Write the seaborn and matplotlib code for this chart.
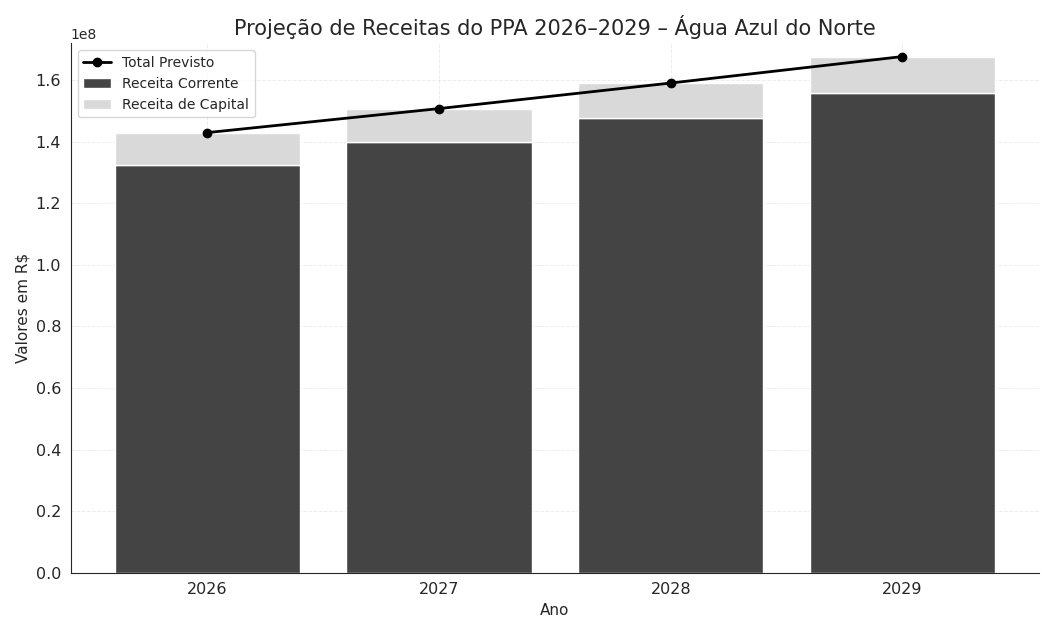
import numpy as np
import pandas as pd
import matplotlib
matplotlib.use("Agg")
import matplotlib.pyplot as plt
import seaborn as sns

anos = ["2026", "2027", "2028", "2029"]
receita_corrente = [132.5e6, 139.8e6, 147.6e6, 155.8e6]
receita_capital = [10.5e6, 11.0e6, 11.5e6, 11.9e6]
total_previsto = [c + k for c, k in zip(receita_corrente, receita_capital)]

df = pd.DataFrame({
    "ano": anos,
    "corrente": receita_corrente,
    "capital": receita_capital,
    "total": total_previsto,
})

sns.set_style("white")
plt.rcParams['font.family'] = ['DejaVu Sans']

fig, ax = plt.subplots(figsize=(10.54, 6.33), dpi=100)

sns.barplot(data=df, x="ano", y="corrente", color="#444444", saturation=1,
            width=0.8, label="Receita Corrente", ax=ax)
sns.barplot(data=df, x="ano", y="capital", color="#d9d9d9", saturation=1,
            width=0.8, bottom=df["corrente"], label="Receita de Capital", ax=ax)
ax.plot(np.arange(len(anos)), df["total"], marker="o", color="black",
        linewidth=2, markersize=6, label="Total Previsto")

ax.grid(True, linestyle="--", linewidth=0.7, alpha=0.35)
sns.despine(ax=ax)

ax.set_title("Projeção de Receitas do PPA 2026–2029 – Água Azul do Norte", fontsize=15)
ax.set_xlabel("Ano", fontsize=11)
ax.set_ylabel("Valores em R$", fontsize=11)
ax.tick_params(labelsize=11.5)
ax.set_ylim(0, 1.72e8)

handles, labels = ax.get_legend_handles_labels()
order = [labels.index(l) for l in ["Total Previsto", "Receita Corrente", "Receita de Capital"]]
ax.legend([handles[i] for i in order], [labels[i] for i in order],
          loc="upper left", fontsize=10, frameon=True)

plt.tight_layout()
plt.savefig("out.png", dpi=100)
